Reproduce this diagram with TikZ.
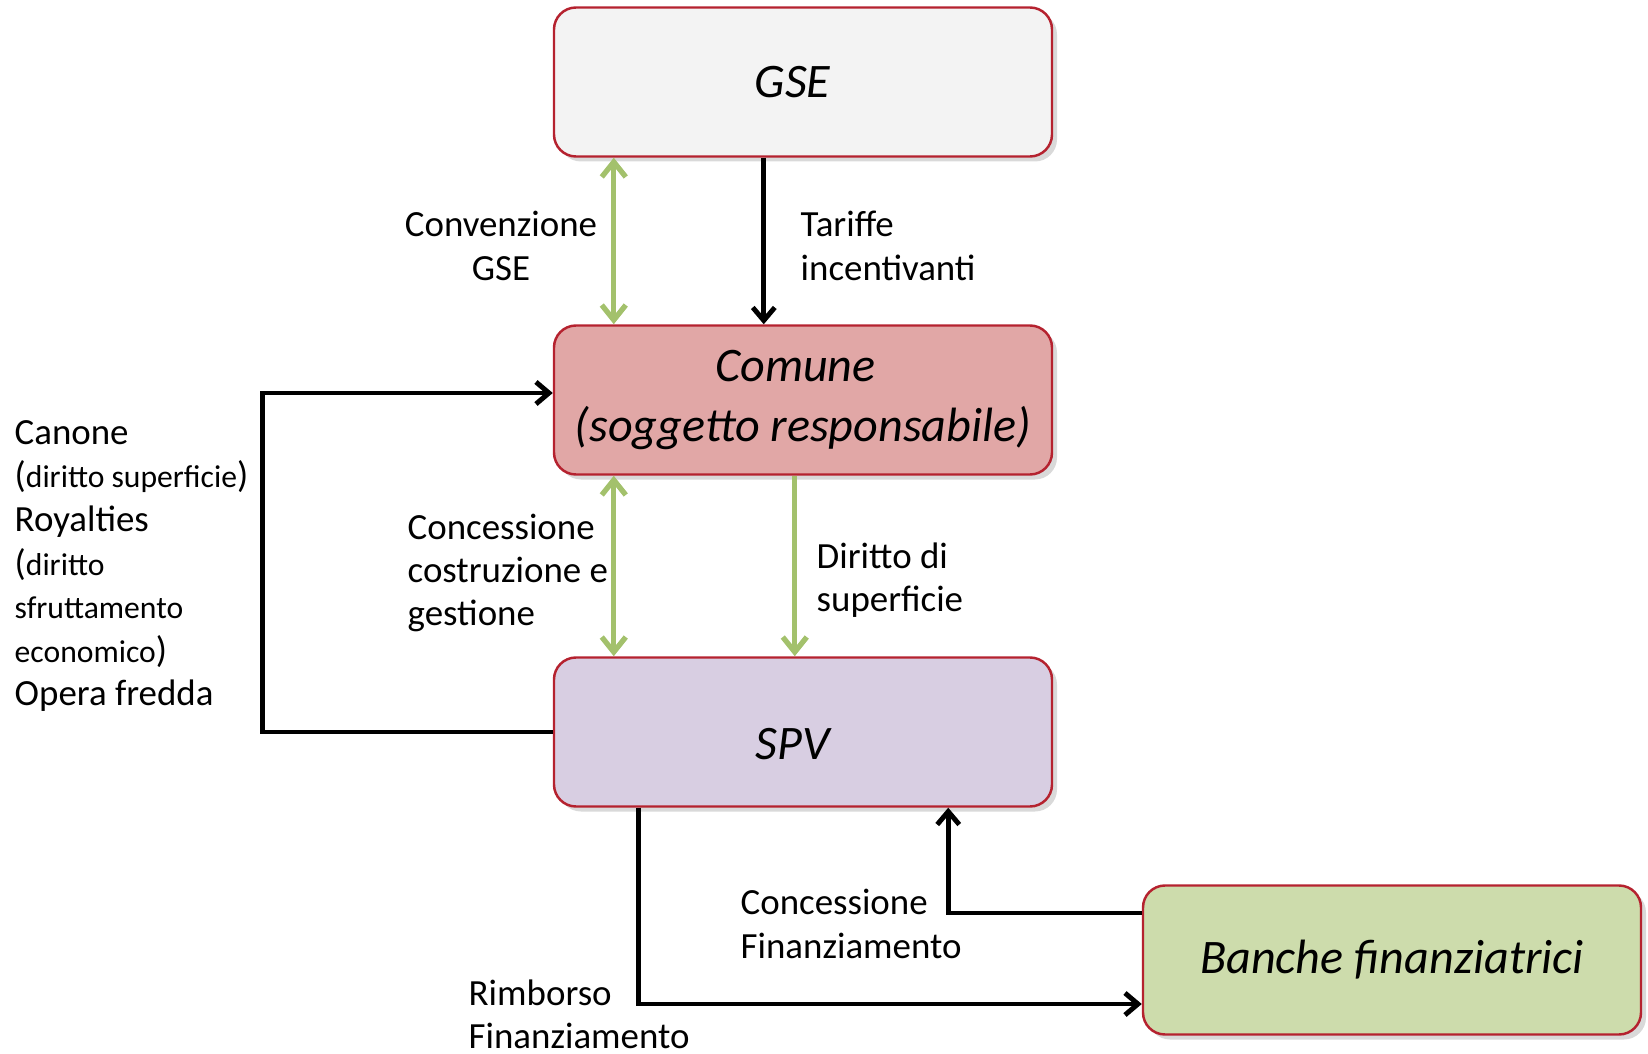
\documentclass[tikz,border=0pt]{standalone}
\usepackage{fontspec}
\setmainfont{Carlito}
\usepackage{xcolor}
\usepackage{tikz}
\usetikzlibrary{arrows.meta,positioning,shadows}

\definecolor{boxred}{HTML}{B5222F}
\definecolor{gsefill}{HTML}{F3F3F3}
\definecolor{comunefill}{HTML}{E1A7A6}
\definecolor{spvfill}{HTML}{D8CEE2}
\definecolor{bankfill}{HTML}{CDDCAC}
\definecolor{arrowgreen}{HTML}{A3C16C}

\begin{document}
\begin{tikzpicture}[
  actor/.style={draw=boxred, line width=0.7pt, rounded corners=0.22cm,
    minimum width=4.98cm, minimum height=1.49cm, align=center,
    font=\fontsize{13.7}{17}\selectfont\itshape,
    drop shadow={shadow xshift=0.05cm, shadow yshift=-0.05cm, opacity=0.3}},
  flow/.style={line width=1.4pt, -{Straight Barb[length=0.13cm,width=0.22cm]}},
  gflow/.style={line width=1.5pt, draw=arrowgreen, -{Straight Barb[length=0.15cm,width=0.24cm]}},
  gtwo/.style={gflow, {Straight Barb[length=0.15cm,width=0.24cm]}-{Straight Barb[length=0.15cm,width=0.24cm]}},
  lbl/.style={align=left, inner sep=0pt, font=\fontsize{10.5}{12.3}\selectfont}]

\useasboundingbox (0,0) rectangle (16.48,-10.54);

% Boxes
\node[actor, fill=gsefill] (gse) at (8.03,-0.82) {GSE\hspace*{0.21cm}};
\node[actor, fill=comunefill] (comune) at (8.03,-4.00) {Comune\hspace*{0.15cm}\\(soggetto responsabile)};
\node[actor, fill=spvfill] (spv) at (8.03,-7.32) {\raisebox{-0.12cm}[\height][\depth]{SPV}\hspace*{0.21cm}};
\node[actor, fill=bankfill] (banche) at (13.92,-9.60) {Banche finanziatrici};

% GSE - Comune
\draw[gtwo] ([xshift=0.61cm]gse.south west) -- ([xshift=0.61cm]comune.north west);
\draw[flow] ([xshift=2.11cm]gse.south west) -- ([xshift=2.11cm]comune.north west);
\node[lbl, align=center] (convlbl) at (5.01,-2.46) {Convenzione\\GSE};
\node[lbl, anchor=west] (tarlbl) at (8.00,-2.46) {Tariffe\\incentivanti};

% Comune - SPV
\draw[gtwo] ([xshift=0.61cm]comune.south west) -- ([xshift=0.61cm]spv.north west);
\draw[gflow] ([xshift=2.42cm]comune.south west) -- ([xshift=2.42cm]spv.north west);
\node[lbl, anchor=west] (conclbl) at (4.07,-5.73) {Concessione\\costruzione e\\gestione};
\node[lbl, anchor=west] (dirlbl) at (8.16,-5.80) {Diritto di\\superficie};

% SPV pays Comune
\draw[flow] (spv.west) -- ++(-2.90,0) |- ([yshift=0.07cm]comune.west);
\node[lbl, anchor=west, font=\fontsize{10.5}{12.4}\selectfont] (paylbl) at (0.14,-5.66)
  {Canone\\({\fontsize{9}{12.4}\selectfont diritto superficie})\\Royalties\\
   ({\fontsize{9}{12.4}\selectfont diritto}\\{\fontsize{9}{12.4}\selectfont sfruttamento}\\
   {\fontsize{9}{12.4}\selectfont economico})\\Opera fredda};

% SPV - Banche
\draw[flow] ([yshift=0.47cm]banche.west) -| ([xshift=-1.05cm]spv.south east);
\draw[flow] ([xshift=0.86cm]spv.south west) |- ([yshift=-0.44cm]banche.west);
\node[lbl, anchor=west] (finlbl) at (7.40,-9.24) {Concessione\\Finanziamento};
\node[lbl, anchor=west] (rimlbl) at (4.68,-10.14) {Rimborso\\Finanziamento};
\end{tikzpicture}
\end{document}
